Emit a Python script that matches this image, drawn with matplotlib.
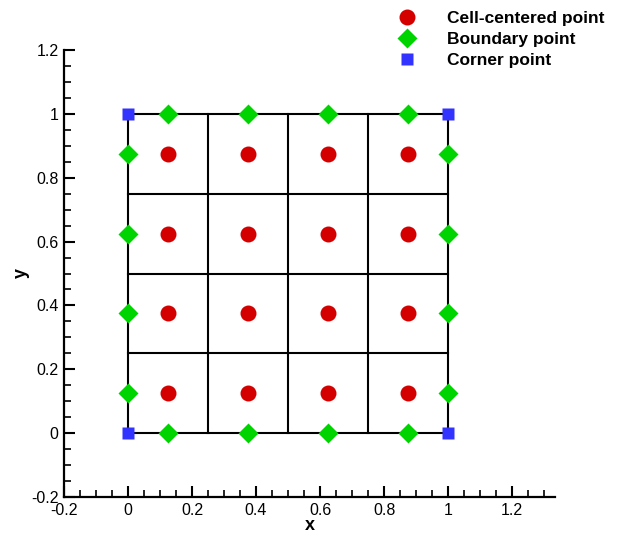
import matplotlib
matplotlib.use('Agg')
import matplotlib.pyplot as plt
from matplotlib.ticker import MultipleLocator

# grid lines and point locations (unit square, 4x4 cells)
edges = [0.0, 0.25, 0.5, 0.75, 1.0]
centers = [0.125, 0.375, 0.625, 0.875]
corner_x = [0.0, 1.0, 0.0, 1.0]
corner_y = [0.0, 0.0, 1.0, 1.0]
labels = ['Cell-centered point', 'Boundary point', 'Corner point']

plt.rcParams['font.family'] = ['Liberation Sans', 'DejaVu Sans']
plt.rcParams['font.size'] = 11

fig = plt.figure(figsize=(6.18, 5.33), dpi=100)
ax = fig.add_axes([64 / 618, 36 / 533, (555 - 64) / 618, (497 - 50) / 533])

# cell boundaries
for e in edges:
    ax.plot([e, e], [edges[0], edges[-1]], color='black', lw=1.5, zorder=1)
    ax.plot([edges[0], edges[-1]], [e, e], color='black', lw=1.5, zorder=1)

cx = [x for x in centers for y in centers]
cy = [y for x in centers for y in centers]
ax.plot(cx, cy, 'o', color='#d40000', ms=11.5, mec='none', zorder=3, label=labels[0])

bx = [0.0] * 4 + [1.0] * 4 + centers + centers
by = centers + centers + [0.0] * 4 + [1.0] * 4
ax.plot(bx, by, 'D', color='#00d400', ms=10.5, mec='none', zorder=3, label=labels[1])

ax.plot(corner_x, corner_y, 's', color='#3333ff', ms=9, mec='none', zorder=4, label=labels[2])

ax.set_xlim(-0.2, 1.334)
ax.set_ylim(-0.2, 1.2)
for side in ['top', 'right']:
    ax.spines[side].set_visible(False)
for side in ['left', 'bottom']:
    ax.spines[side].set_linewidth(1.6)
ax.xaxis.set_major_locator(MultipleLocator(0.2))
ax.xaxis.set_minor_locator(MultipleLocator(0.05))
ax.yaxis.set_major_locator(MultipleLocator(0.2))
ax.yaxis.set_minor_locator(MultipleLocator(0.05))
ax.xaxis.set_major_formatter(plt.FuncFormatter(lambda v, p: '{:g}'.format(round(v, 2))))
ax.yaxis.set_major_formatter(plt.FuncFormatter(lambda v, p: '{:g}'.format(round(v, 2))))
ax.tick_params(which='major', direction='in', length=8, width=1.5, labelsize=11.5, pad=4)
ax.tick_params(which='minor', direction='in', length=5, width=1.2)
ax.set_xlabel('x', fontweight='bold', fontsize=13, labelpad=-0.5)
ax.set_ylabel('y', fontweight='bold', fontsize=13, labelpad=1)

fig.legend(loc='upper left', bbox_to_anchor=(398 / 618, 1 - 11 / 533), frameon=False,
           borderpad=0, borderaxespad=0, handlelength=1.0, handletextpad=1.8,
           labelspacing=0.33, prop={'weight': 'bold', 'size': 12.5})

plt.savefig('out.png', dpi=100)
plt.close()
